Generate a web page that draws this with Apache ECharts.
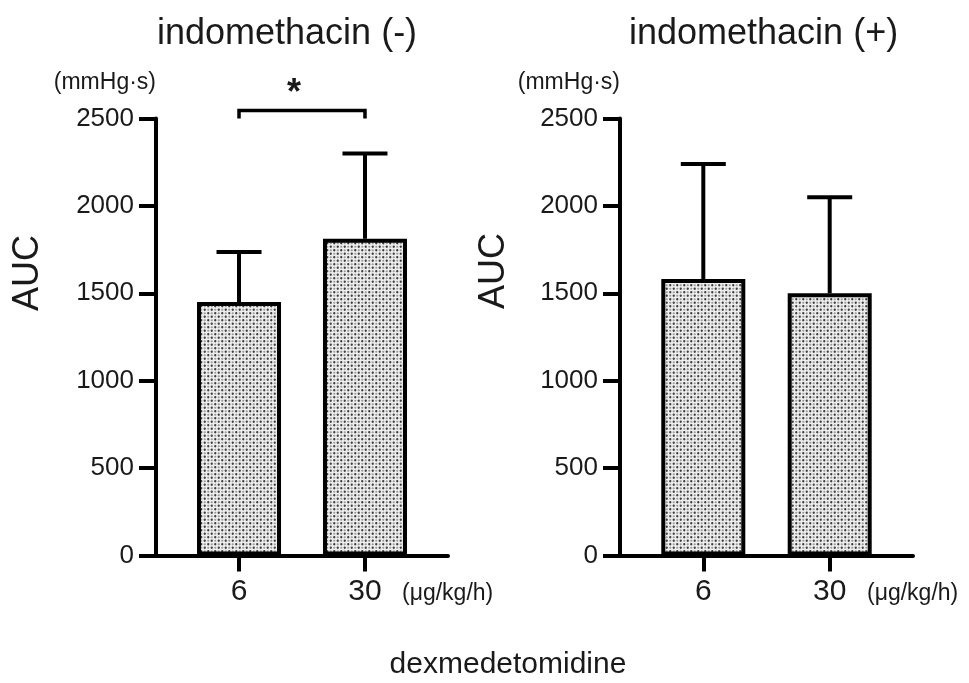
<!DOCTYPE html>
<html><head><meta charset="utf-8">
<script src="https://cdn.jsdelivr.net/npm/echarts@6/dist/echarts.min.js"></script>
<style>html,body{margin:0;padding:0;background:#fff}#c{width:969px;height:683px}</style>
</head><body><div id="c"></div>
<script>
// ---- data ----
const categories = ['6', '30'];
const panelTitles = ['indomethacin (-)', 'indomethacin (+)'];
const meanMinus = [1450, 1812];
const errTopMinus = [1736, 2300];
const meanPlus = [1582, 1500];
const errTopPlus = [2240, 2050];
const yTicks = [0, 500, 1000, 1500, 2000, 2500];
const sigPair = [0, 1];
const sigLevel = 2546;
const sigLabel = '*';
const yUnit = '(mmHg·s)';
const xUnit = '(μg/kg/h)';
const yName = 'AUC';
const xName = 'dexmedetomidine';

const FONT = 'Liberation Sans, Arial, Helvetica, sans-serif';
const TXT = '#1a1a1a';

function makePattern() {
  const c = document.createElement('canvas');
  c.width = 7; c.height = 7;
  const g = c.getContext('2d');
  g.fillStyle = '#eeeeee'; g.fillRect(0, 0, 7, 7);
  function dot(x, y, col, r) { g.fillStyle = col; g.beginPath(); g.arc(x, y, r, 0, Math.PI * 2); g.fill(); }
  dot(1.75, 1.75, '#3c3c3c', 1.15); dot(5.25, 5.25, '#3c3c3c', 1.15);
  dot(5.25, 1.75, '#9a9a9a', 1.1); dot(1.75, 5.25, '#9a9a9a', 1.1);
  return c;
}
const pattern = makePattern();

const panels = [
  { mean: meanMinus, top: errTopMinus, left: 156, width: 292 },
  { mean: meanPlus, top: errTopPlus, left: 620, width: 293 }
];
const positions = categories.map((c, k) => k + 1);

const grids = [], xAxes = [], yAxes = [], series = [], titles = [];
panels.forEach((p, i) => {
  grids.push({ left: p.left, top: 118.5, width: p.width, height: 437 });
  titles.push({ text: panelTitles[i], left: i === 0 ? 152 : 624, top: 11,
    textStyle: { fontSize: 36, fontWeight: 'normal', color: TXT, fontFamily: FONT } });
  xAxes.push({
    type: 'value', gridIndex: i, min: 0.341, max: 2.659,
    splitLine: { show: false },
    axisLine: { onZero: false, lineStyle: { color: '#000', width: 4 } },
    axisTick: { show: true, customValues: positions, length: 16, lineStyle: { color: '#000', width: 4 } },
    axisLabel: { customValues: positions, formatter: v => categories[Math.round(v) - 1] || '',
      fontSize: 30, margin: 21, color: TXT, fontFamily: FONT },
    name: xUnit, nameLocation: 'end', nameGap: -46,
    nameTextStyle: { fontSize: 23, color: TXT, fontFamily: FONT, verticalAlign: 'top', lineHeight: 77 }
  });
  yAxes.push({
    type: 'value', gridIndex: i, min: yTicks[0], max: yTicks[yTicks.length - 1], interval: yTicks[1] - yTicks[0],
    splitLine: { show: false },
    axisLine: { show: true, onZero: false, lineStyle: { color: '#000', width: 4 } },
    axisTick: { show: true, length: 17, lineStyle: { color: '#000', width: 4 } },
    axisLabel: { fontSize: 26, margin: 22, color: TXT, fontFamily: FONT, formatter: v => String(v) },
    name: yUnit, nameLocation: 'end', nameGap: 24,
    nameTextStyle: { fontSize: 23, color: TXT, fontFamily: FONT, align: 'right' }
  });
  series.push({
    type: 'bar', xAxisIndex: i, yAxisIndex: i, barWidth: 84, silent: true,
    data: p.mean.map((v, k) => [positions[k], v]),
    itemStyle: { color: { image: pattern, repeat: 'repeat' }, borderColor: '#000', borderWidth: 4 },
    z: 2
  });
  series.push({
    type: 'custom', xAxisIndex: i, yAxisIndex: i, silent: true, clip: false,
    data: p.mean.map((v, k) => [positions[k], v, p.top[k]]),
    encode: { x: 0, y: [1, 2] },
    renderItem: (params, api) => {
      const x = api.value(0);
      const a = api.coord([x, api.value(1)]);
      const b = api.coord([x, api.value(2)]);
      const half = 22.5;
      return { type: 'group', children: [
        { type: 'line', shape: { x1: a[0], y1: a[1], x2: b[0], y2: b[1] }, style: { stroke: '#000', lineWidth: 4 } },
        { type: 'line', shape: { x1: b[0] - half, y1: b[1], x2: b[0] + half, y2: b[1] }, style: { stroke: '#000', lineWidth: 4 } }
      ] };
    },
    z: 1
  });
});

// significance bracket on first panel
series.push({
  type: 'custom', xAxisIndex: 0, yAxisIndex: 0, silent: true, clip: false,
  data: [[positions[sigPair[0]], positions[sigPair[1]], sigLevel]],
  encode: { x: [0, 1], y: 2 },
  renderItem: (params, api) => {
    const p1 = api.coord([api.value(0), api.value(2)]);
    const p2 = api.coord([api.value(1), api.value(2)]);
    const drop = 8;
    return { type: 'group', children: [
      { type: 'polyline', shape: { points: [[p1[0], p1[1] + drop], [p1[0], p1[1]], [p2[0], p1[1]], [p2[0], p2[1] + drop]] },
        style: { stroke: '#000', lineWidth: 3.5, fill: null } },
      { type: 'text', x: (p1[0] + p2[0]) / 2 - 8, y: p1[1] - 16,
        style: { text: sigLabel, fontSize: 36, fontWeight: 'bold', fontFamily: FONT, fill: TXT, align: 'center', verticalAlign: 'middle' } }
    ] };
  }
});

const option = {
  animation: false,
  backgroundColor: '#fff',
  textStyle: { fontFamily: FONT },
  title: titles,
  grid: grids,
  xAxis: xAxes,
  yAxis: yAxes,
  series: series,
  graphic: [
    { type: 'text', x: 28, y: 273, rotation: Math.PI / 2,
      style: { text: yName, fontSize: 36, fontFamily: FONT, fill: TXT, align: 'center', verticalAlign: 'middle' } },
    { type: 'text', x: 494, y: 271, rotation: Math.PI / 2,
      style: { text: yName, fontSize: 36, fontFamily: FONT, fill: TXT, align: 'center', verticalAlign: 'middle' } },
    { type: 'text', x: 508, y: 665,
      style: { text: xName, fontSize: 30, fontFamily: FONT, fill: TXT, align: 'center', verticalAlign: 'middle' } }
  ]
};
const chart = echarts.init(document.getElementById('c'), null, { renderer: 'canvas' });
chart.setOption(option);
</script>
</body></html>
